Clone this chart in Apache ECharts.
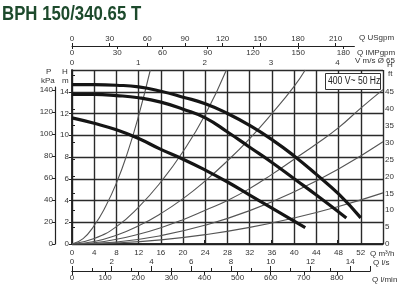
<!DOCTYPE html>
<html><head><meta charset="utf-8">
<script src="https://cdn.jsdelivr.net/npm/echarts@6/dist/echarts.min.js"></script>
<style>html,body{margin:0;padding:0;background:#fff}#c{width:400px;height:288px}</style>
</head><body><div id="c"></div>
<script>
// Pump curves: [Q m3/h, H m]
const pumpHigh = [[0,14.65],[4,14.65],[8,14.6],[12,14.45],[16,14.05],[20,13.5],[24,12.9],[28,12.0],[32,10.9],[36,9.6],[40,8.1],[44,6.4],[48,4.6],[52,2.4]];
const pumpMid  = [[0,13.75],[4,13.75],[8,13.65],[12,13.45],[16,13.05],[20,12.4],[24,11.6],[28,10.3],[32,8.9],[36,7.5],[40,6.0],[44,4.5],[49.4,2.4]];
const pumpLow  = [[0,11.6],[4,11.1],[8,10.5],[12,9.7],[16,8.7],[20,7.8],[24,6.8],[28,5.7],[32,4.5],[36,3.3],[42,1.5]];
// System curves
const sys1 = [[0,0],[2,0.5],[4,1.7],[6,3.4],[8,5.6],[10,8.4],[12,11.8],[14.1,16]];
const sys2 = [[0,0],[4,0.5],[8,1.6],[12,3.4],[16,5.7],[20,8.5],[24,11.9],[27.8,16]];
const sys3 = [[0,0],[4,0.23],[8,0.8],[12,1.67],[16,2.8],[20,4.17],[24,5.8],[28,7.65],[32,9.7],[36,12.0],[40,14.5],[42,16]];
const sys4 = [[0,0],[4,0.12],[8,0.43],[12,0.9],[16,1.5],[20,2.24],[24,3.1],[28,4.0],[32,5.1],[36,6.4],[40,7.8],[44,9.2],[48,10.7],[52,12.5],[56,14.2]];
const sys5 = [[0,0],[8,0.19],[16,0.77],[24,1.73],[32,3.07],[40,4.8],[48,6.9],[56,9.4]];
const sys6 = [[0,0],[8,0.1],[16,0.38],[24,0.86],[32,1.53],[40,2.4],[48,3.45],[56,4.7]];
const pumpCurves = [pumpHigh, pumpMid, pumpLow];
const sysCurves = [sys1, sys2, sys3, sys4, sys5, sys6];
const title = 'BPH 150/340.65 T';
const ratingText = '400 V~ 50 Hz';

const F = 'Liberation Sans, Arial, sans-serif';
const lab = {fontFamily: F, fontSize: 8, color: '#333'};
const dark = '#222';
const ln = {lineStyle:{color: dark, width: 1}};
const hiddenY = gi => ({type:'value', gridIndex: gi, show:false, min:0, max:1});
const hiddenX = gi => ({type:'value', gridIndex: gi, show:false, min:0, max:1});
const txt = (t, x, y) => ({type:'text', left:x, top:y, style:{text:t, font:'8px '+F, fill:'#333'}});

const chart = echarts.init(document.getElementById('c'));
const series = [];
sysCurves.forEach(d => series.push({type:'line', xAxisIndex:0, yAxisIndex:0, data:d, smooth:true, symbol:'none', silent:true, lineStyle:{color:'#555', width:1.1}}));
pumpCurves.forEach(d => series.push({type:'line', xAxisIndex:0, yAxisIndex:0, data:d, smooth:true, symbol:'none', silent:true, lineStyle:{color:'#151515', width:3.2}}));

chart.setOption({
  animation:false,
  backgroundColor:'#fff',
  grid:[
    {left:72, top:70, width:311, height:174},
    {left:55, top:87, width:1, height:157},
    {left:72, top:271, width:298, height:0},
    {left:72, top:46, width:282.4, height:0}
  ],
  xAxis:[
    {type:'value', gridIndex:0, position:'bottom', min:0, max:56, interval:4,
     axisLine:{lineStyle:{color:dark,width:1.5}}, axisTick:{show:false},
     axisLabel:Object.assign({margin:5, showMaxLabel:false}, lab),
     splitLine:{show:true, lineStyle:{color:'#2a2a2a', width:1.4}}},
    {type:'value', gridIndex:0, position:'top', min:0, max:4.688, interval:1,
     axisLine:{show:true, lineStyle:{color:dark,width:1.5}}, axisTick:{show:true, length:4, lineStyle:{color:dark}},
     axisLabel:Object.assign({margin:3, showMaxLabel:false}, lab), splitLine:{show:false}},
    hiddenX(1),
    {type:'value', gridIndex:2, position:'top', min:0, max:15, interval:2,
     axisLine:ln, axisTick:{show:true, length:5, lineStyle:{color:dark}},
     minorTick:{show:true, splitNumber:2, length:3, lineStyle:{color:dark}},
     axisLabel:Object.assign({margin:5, showMaxLabel:false}, lab), splitLine:{show:false}},
    {type:'value', gridIndex:2, position:'bottom', min:0, max:900, interval:100,
     axisLine:ln, axisTick:{show:true, length:4, lineStyle:{color:dark}},
     minorTick:{show:false},
     axisLabel:Object.assign({margin:3, showMaxLabel:false}, lab), splitLine:{show:false}},
    {type:'value', gridIndex:3, position:'top', min:0, max:225, interval:30,
     axisLine:ln, axisTick:{show:true, length:3, lineStyle:{color:dark}},
     axisLabel:Object.assign({margin:3, showMaxLabel:false}, lab), splitLine:{show:false}},
    {type:'value', gridIndex:3, position:'bottom', min:0, max:187.3, interval:30,
     axisLine:{show:false}, axisTick:{show:true, length:3, lineStyle:{color:dark}},
     axisLabel:Object.assign({margin:3, showMaxLabel:false}, lab), splitLine:{show:false}}
  ],
  yAxis:[
    {type:'value', gridIndex:0, position:'left', min:0, max:16, interval:2,
     axisLine:{show:true, lineStyle:{color:dark,width:1.5}}, axisTick:{show:true, length:3, lineStyle:{color:dark}},
     axisLabel:Object.assign({margin:3, showMaxLabel:false}, lab),
     splitLine:{show:true, lineStyle:{color:'#2a2a2a', width:1.4}}},
    {type:'value', gridIndex:0, position:'right', min:0, max:51.5, interval:5,
     axisLine:{show:true, lineStyle:{color:dark,width:1.5}}, axisTick:{show:true, length:3, lineStyle:{color:dark}},
     axisLabel:Object.assign({margin:2, formatter:v=> v>=50?'':v}, lab), splitLine:{show:false}},
    {type:'value', gridIndex:1, position:'left', min:0, max:142.7, interval:20,
     axisLine:{show:true, lineStyle:{color:dark,width:1.2}}, axisTick:{show:true, length:3, lineStyle:{color:dark}},
     axisLabel:Object.assign({margin:2, showMaxLabel:false}, lab), splitLine:{show:false}},
    hiddenY(2), hiddenY(3)
  ],
  graphic:[
    {type:'text', left:2, top:4, scaleX:0.84, style:{text:title, fontFamily:F, fontWeight:'bold', fontSize:20, fill:'#1d4a2c'}},
    txt('P', 46, 68), txt('kPa', 41, 77),
    txt('H', 62, 68), txt('m', 62, 77),
    txt('H', 387, 61), txt('ft', 388, 70),
    txt('Q USgpm', 359, 34), txt('Q IMPgpm', 357, 49), txt('V m/s Ø 65', 355, 57),
    txt('Q m³/h', 370, 250),
    txt('Q l/s', 373, 259), txt('Q l/min', 372, 276),
    {type:'rect', left:325, top:73, shape:{width:55, height:16}, style:{fill:'#fff', stroke:'#333', lineWidth:1}, z:10},
    {type:'text', left:328, top:76, z:11, scaleX:0.86, style:{text:ratingText, font:'10px '+F, fill:'#222'}}
  ],
  series: series
});
</script></body></html>
